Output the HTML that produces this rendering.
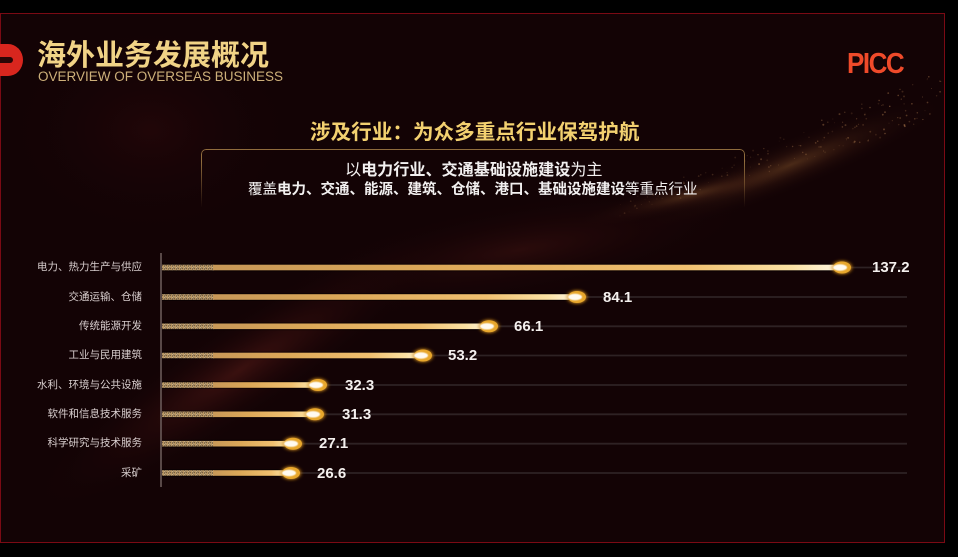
<!DOCTYPE html>
<html><head><meta charset="utf-8">
<style>
html,body{margin:0;padding:0;background:#000;width:958px;height:557px;overflow:hidden;}
body{position:relative;font-family:"Liberation Sans","Noto Sans CJK SC",sans-serif;}
.abs{position:absolute;white-space:nowrap;}
.lbl{position:absolute;right:816px;font-size:10.5px;line-height:11px;color:#d8cece;font-family:"Liberation Sans","Noto Sans CJK SC",sans-serif;text-align:right;white-space:nowrap;}
.val{position:absolute;font-size:15px;line-height:15px;font-weight:bold;color:#f4f0ee;font-family:"Liberation Sans",sans-serif;}
</style></head>
<body>
<svg class="abs" style="left:0;top:0" width="958" height="557" viewBox="0 0 958 557">
  <defs>
    <radialGradient id="gStreak" cx="0.5" cy="0.5" r="0.5">
      <stop offset="0" stop-color="#9a6232" stop-opacity="0.42"/>
      <stop offset="0.45" stop-color="#6e3a20" stop-opacity="0.16"/>
      <stop offset="1" stop-color="#130305" stop-opacity="0"/>
    </radialGradient>
    <radialGradient id="gWave" cx="0.5" cy="0.5" r="0.5">
      <stop offset="0" stop-color="#5a1c18" stop-opacity="0.55"/>
      <stop offset="0.5" stop-color="#3a0e0e" stop-opacity="0.25"/>
      <stop offset="1" stop-color="#130305" stop-opacity="0"/>
    </radialGradient>
    <radialGradient id="gDark" cx="0.5" cy="0.5" r="0.5">
      <stop offset="0" stop-color="#2a080a" stop-opacity="0.6"/>
      <stop offset="1" stop-color="#130305" stop-opacity="0"/>
    </radialGradient>
    <clipPath id="slideClip"><rect x="1" y="14" width="943" height="527"/></clipPath>
  </defs>
  <rect x="0.5" y="13.5" width="944" height="529" fill="#130305" stroke="#7a0a14" stroke-width="1"/>
  <g clip-path="url(#slideClip)">
    <ellipse cx="150" cy="130" rx="150" ry="110" fill="url(#gDark)"/>
    <ellipse cx="790" cy="165" rx="170" ry="26" fill="url(#gStreak)" transform="rotate(-22 790 165)"/>
    <ellipse cx="690" cy="195" rx="120" ry="16" fill="url(#gStreak)" transform="rotate(-14 690 195)"/>
    <ellipse cx="240" cy="370" rx="250" ry="50" fill="url(#gWave)" transform="rotate(-33 240 370)"/>
    <ellipse cx="520" cy="250" rx="240" ry="50" fill="url(#gWave)" transform="rotate(-10 520 250)" opacity="0.6"/>
    <g id="particles"></g>
  </g>
</svg>

<!-- left red logo piece -->
<svg class="abs" style="left:0;top:44px" width="24" height="32" viewBox="0 0 24 32">
  <path d="M0 0 L8 0 A15 16 0 0 1 8 32 L0 32 Z" fill="#d8261e"/>
  <path d="M0 13 L10 13 A3 3 0 0 1 10 19 L0 19 Z" fill="#2a0606"/>
</svg>

<!-- title -->
<div class="abs" style="left:37px;top:37px;font-size:29px;line-height:32px;font-weight:bold;color:#f1d386;font-family:'Noto Sans CJK SC','WenQuanYi Zen Hei',sans-serif;">海外业务发展概况</div>
<div class="abs" style="left:38px;top:70px;font-size:13.5px;line-height:14px;color:#cdb07a;font-family:'Liberation Sans',sans-serif;">OVERVIEW OF OVERSEAS BUSINESS</div>

<!-- PICC -->
<div class="abs" style="left:847px;top:49px;font-size:26px;line-height:26px;font-weight:bold;color:#ef4a2a;letter-spacing:-1.5px;transform:scaleY(1.1);transform-origin:left top;font-family:'Liberation Sans',sans-serif;">PICC</div>

<!-- heading -->
<div class="abs" style="left:310px;top:119px;font-size:20.6px;line-height:22px;font-weight:bold;color:#f3d170;font-family:'Noto Sans CJK SC',sans-serif;">涉及行业：为众多重点行业保驾护航</div>

<!-- box -->
<div class="abs" style="left:201px;top:149px;width:544px;height:62px;border:1px solid rgba(175,135,75,0.8);border-bottom:none;border-radius:5px 5px 0 0;box-sizing:border-box;-webkit-mask-image:linear-gradient(to bottom,#000 20%,transparent 95%);mask-image:linear-gradient(to bottom,#000 20%,transparent 95%);"></div>
<div class="abs" style="left:345px;top:159px;font-size:16.1px;line-height:18px;color:#f2f0f0;font-family:'Noto Sans CJK SC',sans-serif;">以<b>电力行业、交通基础设施建设</b>为主</div>
<div class="abs" style="left:248px;top:181px;font-size:14.5px;line-height:16px;color:#f2f0f0;font-family:'Noto Sans CJK SC',sans-serif;">覆盖<b>电力、交通、能源、建筑、仓储、港口、基础设施建设</b>等重点行业</div>

<!-- chart -->
<svg class="abs" style="left:0;top:0" width="958" height="557" viewBox="0 0 958 557">
  <defs id="cdefs">
    <linearGradient id="grain" x1="0" x2="1" y1="0" y2="0">
      <stop offset="0" stop-color="#7e6848"/>
      <stop offset="0.5" stop-color="#a88c64"/>
      <stop offset="1" stop-color="#bf9a62"/>
    </linearGradient>
    <pattern id="dots" width="4" height="3" patternUnits="userSpaceOnUse">
      <rect width="4" height="3" fill="url(#grain)"/>
      <rect x="0" y="0" width="1" height="1" fill="#e0caa0" opacity="0.7"/>
      <rect x="2" y="1" width="1" height="1" fill="#5a4430" opacity="0.7"/>
      <rect x="1" y="2" width="1" height="1" fill="#d0b080" opacity="0.6"/>
    </pattern>
    <radialGradient id="knob" cx="0.5" cy="0.5" r="0.5">
      <stop offset="0" stop-color="#ffd060"/>
      <stop offset="0.6" stop-color="#e4a024"/>
      <stop offset="1" stop-color="#b06a10" stop-opacity="0"/>
    </radialGradient>
    <filter id="blur1" x="-50%" y="-50%" width="200%" height="200%"><feGaussianBlur stdDeviation="1.3"/></filter>
    <filter id="blur2" x="-50%" y="-50%" width="200%" height="200%"><feGaussianBlur stdDeviation="0.6"/></filter>
  </defs>

  <line x1="161" y1="253" x2="161" y2="487" stroke="#6a5a58" stroke-width="1.6"/>
  <g id="bars"></g>
</svg>

<div class="lbl" style="top:262px">电力、热力生产与供应</div>
<div class="lbl" style="top:291.5px">交通运输、仓储</div>
<div class="lbl" style="top:321px">传统能源开发</div>
<div class="lbl" style="top:350px">工业与民用建筑</div>
<div class="lbl" style="top:379.5px">水利、环境与公共设施</div>
<div class="lbl" style="top:409px">软件和信息技术服务</div>
<div class="lbl" style="top:438px">科学研究与技术服务</div>
<div class="lbl" style="top:467.5px">采矿</div>

<div class="val" style="left:872px;top:260px">137.2</div>
<div class="val" style="left:603px;top:289.5px">84.1</div>
<div class="val" style="left:514px;top:319px">66.1</div>
<div class="val" style="left:448px;top:348px">53.2</div>
<div class="val" style="left:345px;top:377.5px">32.3</div>
<div class="val" style="left:342px;top:407px">31.3</div>
<div class="val" style="left:319px;top:436px">27.1</div>
<div class="val" style="left:317px;top:465.5px">26.6</div>

<script>
(function(){
  var ns='http://www.w3.org/2000/svg';
  var seed=7;function rnd(){seed=(seed*16807)%2147483647;return seed/2147483647;}
  var p='';
  for(var k=0;k<180;k++){
    var t=rnd();
    var x=620+t*322, y=210-t*115+(rnd()-0.5)*(14+t*36);
    var o=(0.15+rnd()*0.35)*(0.4+t*0.6);
    p+='<circle cx="'+x.toFixed(1)+'" cy="'+y.toFixed(1)+'" r="'+(0.4+rnd()*0.6).toFixed(2)+'" fill="#c8905a" opacity="'+o.toFixed(2)+'"/>';
  }
  document.getElementById('particles').innerHTML=p;

  var ys=[267.5,297,326.3,355.5,385,414.3,443.7,473];
  var cx=[842,577,489,423,318,315,293,291];
  var g=document.getElementById('bars');
  var defs=document.getElementById('cdefs');
  var s='';
  for(var i=0;i<ys.length;i++){
    var y=ys[i],x=cx[i];
    var gid='bg'+i;
    var lg=document.createElementNS(ns,'linearGradient');
    lg.setAttribute('id',gid);lg.setAttribute('gradientUnits','userSpaceOnUse');
    lg.setAttribute('x1','213');lg.setAttribute('x2',String(x));lg.setAttribute('y1','0');lg.setAttribute('y2','0');
    var stops=[[0,'#c89858'],[0.35,'#dca858'],[0.75,'#f0c070'],[0.92,'#fbe2a4'],[1,'#fff8e6']];
    stops.forEach(function(st){var e=document.createElementNS(ns,'stop');e.setAttribute('offset',st[0]);e.setAttribute('stop-color',st[1]);lg.appendChild(e);});
    defs.appendChild(lg);
    s+='<line x1="'+x+'" y1="'+y+'" x2="907" y2="'+y+'" stroke="#2e2224" stroke-width="1.8"/>';
    s+='<rect x="162" y="'+(y-4)+'" width="'+(x-162)+'" height="8" fill="#000" opacity="0.4"/>';
    s+='<rect x="162" y="'+(y-2.8)+'" width="52" height="5.6" fill="url(#dots)"/>';
    s+='<rect x="213" y="'+(y-2.8)+'" width="'+(x-213)+'" height="5.6" fill="url(#'+gid+')"/>';
    s+='<ellipse cx="'+x+'" cy="'+y+'" rx="12" ry="8" fill="url(#knob)" filter="url(#blur1)"/>';
    s+='<ellipse cx="'+x+'" cy="'+y+'" rx="9" ry="6" fill="#e8a72c"/>';
    s+='<ellipse cx="'+(x-2)+'" cy="'+y+'" rx="7" ry="3.2" fill="#fffaf0" filter="url(#blur2)"/>';
  }
  g.innerHTML=s;
})();
</script>
</body></html>
